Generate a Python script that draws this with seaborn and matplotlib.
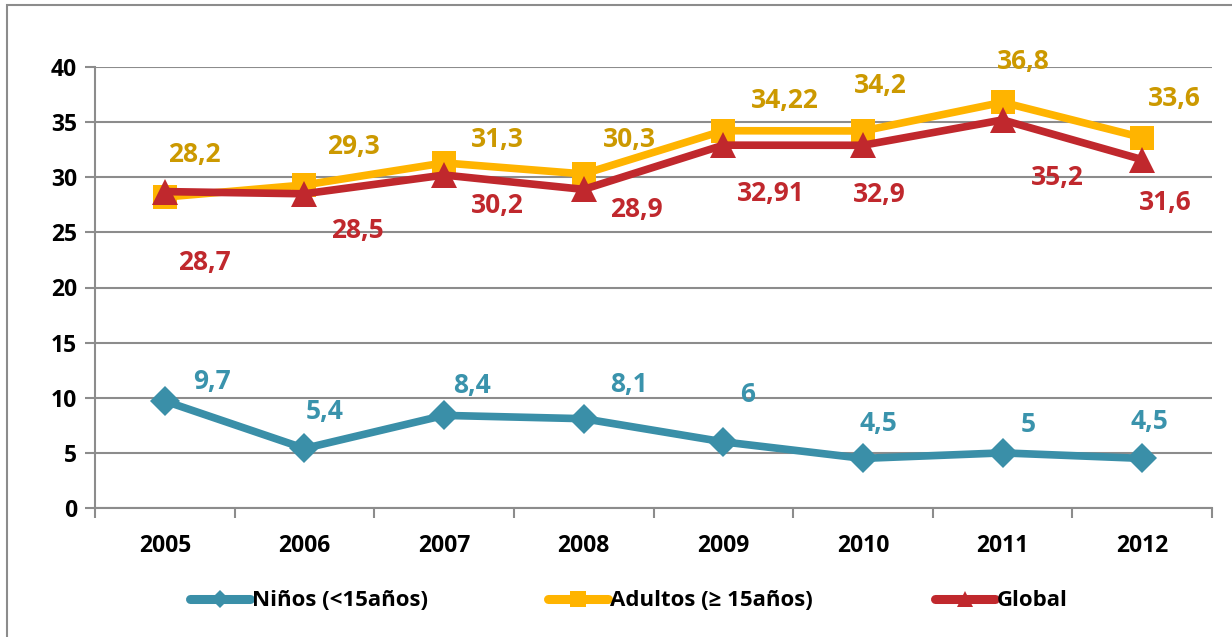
import matplotlib
matplotlib.use("Agg")
import matplotlib.pyplot as plt
from matplotlib.lines import Line2D
import seaborn as sns
import pandas as pd
import numpy as np

years = ["2005", "2006", "2007", "2008", "2009", "2010", "2011", "2012"]
ninos = [9.7, 5.4, 8.4, 8.1, 6, 4.5, 5, 4.5]
adultos = [28.2, 29.3, 31.3, 30.3, 34.22, 34.2, 36.8, 33.6]
global_ = [28.7, 28.5, 30.2, 28.9, 32.91, 32.9, 35.2, 31.6]
series_names = ["Niños (<15años)", "Adultos (≥ 15años)", "Global"]

# label offsets in pixels relative to point (dx right, dy down)
off_ninos = [(47, -20), (20, -37), (28, -30), (45, -34), (24, -47), (15, -35), (26, -28), (7, -37)]
off_adultos = [(30, -43), (49, -38), (53, -23), (46, -34), (62, -30), (17, -45), (21, -41), (32, -39)]
off_global = [(40, 71), (53, 37), (53, 30), (53, 20), (48, 48), (16, 49), (55, 58), (23, 43)]

sns.set_theme(style="white")
plt.rcParams['font.family'] = ['Open Sans', 'DejaVu Sans']
plt.rcParams['text.color'] = 'black'

fig = plt.figure(figsize=(12.32, 6.37), dpi=100)
ax = fig.add_axes([95/1232, 1-508/637, (1212-95)/1232, (508-67)/637])

df = pd.DataFrame({
    "year": years * 3,
    "value": ninos + adultos + global_,
    "serie": [series_names[0]] * 8 + [series_names[1]] * 8 + [series_names[2]] * 8,
})
df["xi"] = list(range(8)) * 3

colors = ["#3A8FA8", "#FFB400", "#C0282D"]
label_colors = ["#3A93AC", "#CC9900", "#C0282D"]
markers = ["D", "s", "^"]
msizes = [15, 17, 19]

for i, name in enumerate(series_names):
    sub = df[df["serie"] == name]
    sns.lineplot(data=sub, x="xi", y="value", ax=ax, color=colors[i], linewidth=5.5,
                 marker=markers[i], markersize=msizes[i], markeredgewidth=0,
                 zorder=3 + i, legend=False)

offs = [off_ninos, off_adultos, off_global]
vals = [ninos, adultos, global_]
for i in range(3):
    for j, v in enumerate(vals[i]):
        txt = f"{v:g}".replace(".", ",")
        dx, dy = offs[i][j]
        ax.annotate(txt, (j, v), xytext=(dx, -dy), textcoords="offset pixels",
                    ha="center", va="center", fontsize=19, fontweight="bold",
                    color=label_colors[i], zorder=10)

ax.set_xlim(-0.5, 7.5)
ax.set_ylim(0, 40)
ax.set_yticks(range(0, 41, 5))
ax.set_xticks(range(8))
ax.set_xticklabels(years)
ax.set_xticks(np.arange(-0.5, 8, 1), minor=True)
ax.set_xlabel("")
ax.set_ylabel("")
ax.yaxis.grid(True, color="#8C8C8C", linewidth=1.5)
ax.xaxis.grid(False)
for s in ["top", "right"]:
    ax.spines[s].set_visible(False)
for s in ["left", "bottom"]:
    ax.spines[s].set_color("#8C8C8C")
    ax.spines[s].set_linewidth(1.5)
ax.tick_params(axis="y", which="major", left=True, length=7, width=1.5, color="#8C8C8C",
               labelsize=16.5, pad=6, labelcolor="black")
ax.tick_params(axis="x", which="major", bottom=False, labelsize=16.5, pad=13, labelcolor="black")
ax.tick_params(axis="x", which="minor", bottom=True, length=7, width=1.5, color="#8C8C8C")
for lab in ax.get_xticklabels() + ax.get_yticklabels():
    lab.set_fontweight("bold")

leg_x = [190, 548, 935]
leg_ms = [9, 11, 12]
for i in range(3):
    h = Line2D([0], [0], color=colors[i], linewidth=6.5, marker=markers[i],
               markersize=leg_ms[i], markeredgewidth=0, solid_capstyle="round")
    leg = fig.legend([h], [series_names[i]], loc="center left",
                     bbox_to_anchor=(leg_x[i]/1232, 1-601/637), frameon=False,
                     handlelength=2.7, handletextpad=0.1, borderpad=0, borderaxespad=0,
                     prop={"weight": "bold", "size": 16})
    for t in leg.get_texts():
        t.set_color("black")

# outer chart border (left and top visible)
fig.add_artist(plt.Rectangle((7/1232, -0.1), 1.2, 1 - 5/637 + 0.1, transform=fig.transFigure,
                             fill=False, edgecolor="#8C8C8C", linewidth=1.5))

fig.savefig("out.png", dpi=100)
